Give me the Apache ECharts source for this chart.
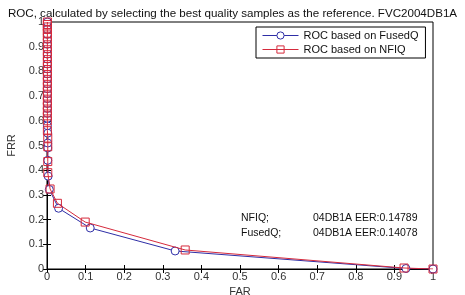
<!DOCTYPE html>
<html>
<head>
<meta charset="utf-8">
<script src="https://cdn.jsdelivr.net/npm/echarts@6/dist/echarts.min.js"></script>
<style>
  html, body { margin: 0; padding: 0; background: #fff; }
  #chart { width: 465px; height: 295px; }
</style>
</head>
<body>
<div id="chart"></div>
<script>
// ROC points, ordered from FAR=1 down to FAR=0
var farFused = [1, 0.93, 0.332, 0.112, 0.030, 0.006, 0.003, 0.002, 0.002, 0.002, 0.002, 0.001, 0.001, 0.001, 0.001,
  0.001, 0.001, 0.001, 0.001, 0.001, 0.001, 0.001, 0.001, 0.001, 0.001, 0.001, 0.001, 0.001, 0.001, 0.001, 0.001, 0.001]
var frrFused = [0, 0.002, 0.073, 0.166, 0.246, 0.322, 0.376, 0.44, 0.49, 0.51, 0.55, 0.58, 0.61, 0.63, 0.65,
  0.67, 0.69, 0.71, 0.73, 0.75, 0.77, 0.79, 0.81, 0.83, 0.85, 0.87, 0.89, 0.91, 0.93, 0.95, 0.97, 1]

var farNfiq = [1, 0.925, 0.358, 0.099, 0.027, 0.008, 0.002, 0.002, 0.002, 0.002, 0.001, 0.001, 0.001, 0.001, 0.001,
  0.001, 0.001, 0.001, 0.001, 0.001, 0.001, 0.001, 0.001, 0.001, 0.001, 0.001, 0.001, 0.001, 0.001, 0.001, 0.001, 0.001, 0.001, 0.001]
var frrNfiq = [0, 0.004, 0.077, 0.19, 0.266, 0.324, 0.39, 0.435, 0.495, 0.53, 0.56, 0.6, 0.62, 0.64, 0.66,
  0.68, 0.7, 0.72, 0.74, 0.76, 0.78, 0.8, 0.82, 0.84, 0.86, 0.88, 0.9, 0.92, 0.94, 0.955, 0.97, 0.98, 0.99, 1]

var seriesNames = ['ROC based on FusedQ', 'ROC based on NFIQ']
var eerNotes = ['NFIQ;', '04DB1A EER:0.14789', 'FusedQ;', '04DB1A EER:0.14078']

function pairs(xs, ys) {
  return xs.map(function (x, i) { return [x, ys[i]] })
}

var font = 'Liberation Sans, Arial, sans-serif'
var blue = '#2e2ea6'
var red = '#d52a3c'
var chart = echarts.init(document.getElementById('chart'))

var plainAxis = {
  type: 'value', min: 0, max: 1, interval: 0.1,
  axisLine: { show: true, lineStyle: { color: '#000', width: 1 } },
  axisTick: { show: true, inside: true, length: 4, lineStyle: { color: '#000' } },
  splitLine: { show: false }
}

chart.setOption({
  animation: false,
  title: {
    text: 'ROC, calculated by selecting the best quality samples as the reference. FVC2004DB1A',
    left: 'center', top: 3,
    textStyle: { fontFamily: font, fontSize: 11.6, fontWeight: 'normal', color: '#111' }
  },
  grid: {
    left: 47, right: 32, top: 22, bottom: 26,
    outerBoundsMode: 'none', containLabel: false,
    show: true, borderColor: '#000', borderWidth: 1
  },
  legend: {
    data: seriesNames,
    orient: 'vertical',
    left: 256, top: 27,
    padding: [3, 7, 3, 6],
    itemGap: 3,
    itemWidth: 36, itemHeight: 9,
    backgroundColor: '#fff',
    borderColor: '#000', borderWidth: 1,
    lineStyle: { width: 1 },
    itemStyle: { borderWidth: 1 },
    textStyle: { fontFamily: font, fontSize: 11, color: '#111' }
  },
  xAxis: [
    Object.assign({}, plainAxis, {
      name: 'FAR', nameLocation: 'middle', nameGap: 13,
      nameTextStyle: { fontFamily: font, fontSize: 11, color: '#333' },
      axisLabel: { fontFamily: font, fontSize: 11, color: '#333', margin: 2 }
    }),
    Object.assign({}, plainAxis, { position: 'top', axisLabel: { show: false } })
  ],
  yAxis: [
    Object.assign({}, plainAxis, {
      name: 'FRR', nameLocation: 'middle', nameGap: 29,
      nameTextStyle: { fontFamily: font, fontSize: 11, color: '#333' },
      axisLabel: { fontFamily: font, fontSize: 11, color: '#333', margin: 3 }
    }),
    Object.assign({}, plainAxis, { position: 'right', axisLabel: { show: false } })
  ],
  series: [
    {
      name: seriesNames[0], type: 'line',
      data: pairs(farFused, frrFused),
      symbol: 'circle', symbolSize: 8,
      lineStyle: { color: blue, width: 1 },
      itemStyle: { color: '#fff', borderColor: blue, borderWidth: 1 },
      z: 3
    },
    {
      name: seriesNames[1], type: 'line',
      data: pairs(farNfiq, frrNfiq),
      symbol: 'rect', symbolSize: 8,
      lineStyle: { color: red, width: 1 },
      itemStyle: { color: 'rgba(0,0,0,0)', borderColor: red, borderWidth: 1 },
      z: 4
    }
  ],
  graphic: [
    { type: 'text', left: 241, top: 213, style: { text: eerNotes[0], font: '10.5px ' + font, fill: '#111' } },
    { type: 'text', left: 313, top: 213, style: { text: eerNotes[1], font: '10.5px ' + font, fill: '#111' } },
    { type: 'text', left: 241, top: 228, style: { text: eerNotes[2], font: '10.5px ' + font, fill: '#111' } },
    { type: 'text', left: 313, top: 228, style: { text: eerNotes[3], font: '10.5px ' + font, fill: '#111' } }
  ]
})
</script>
</body>
</html>
